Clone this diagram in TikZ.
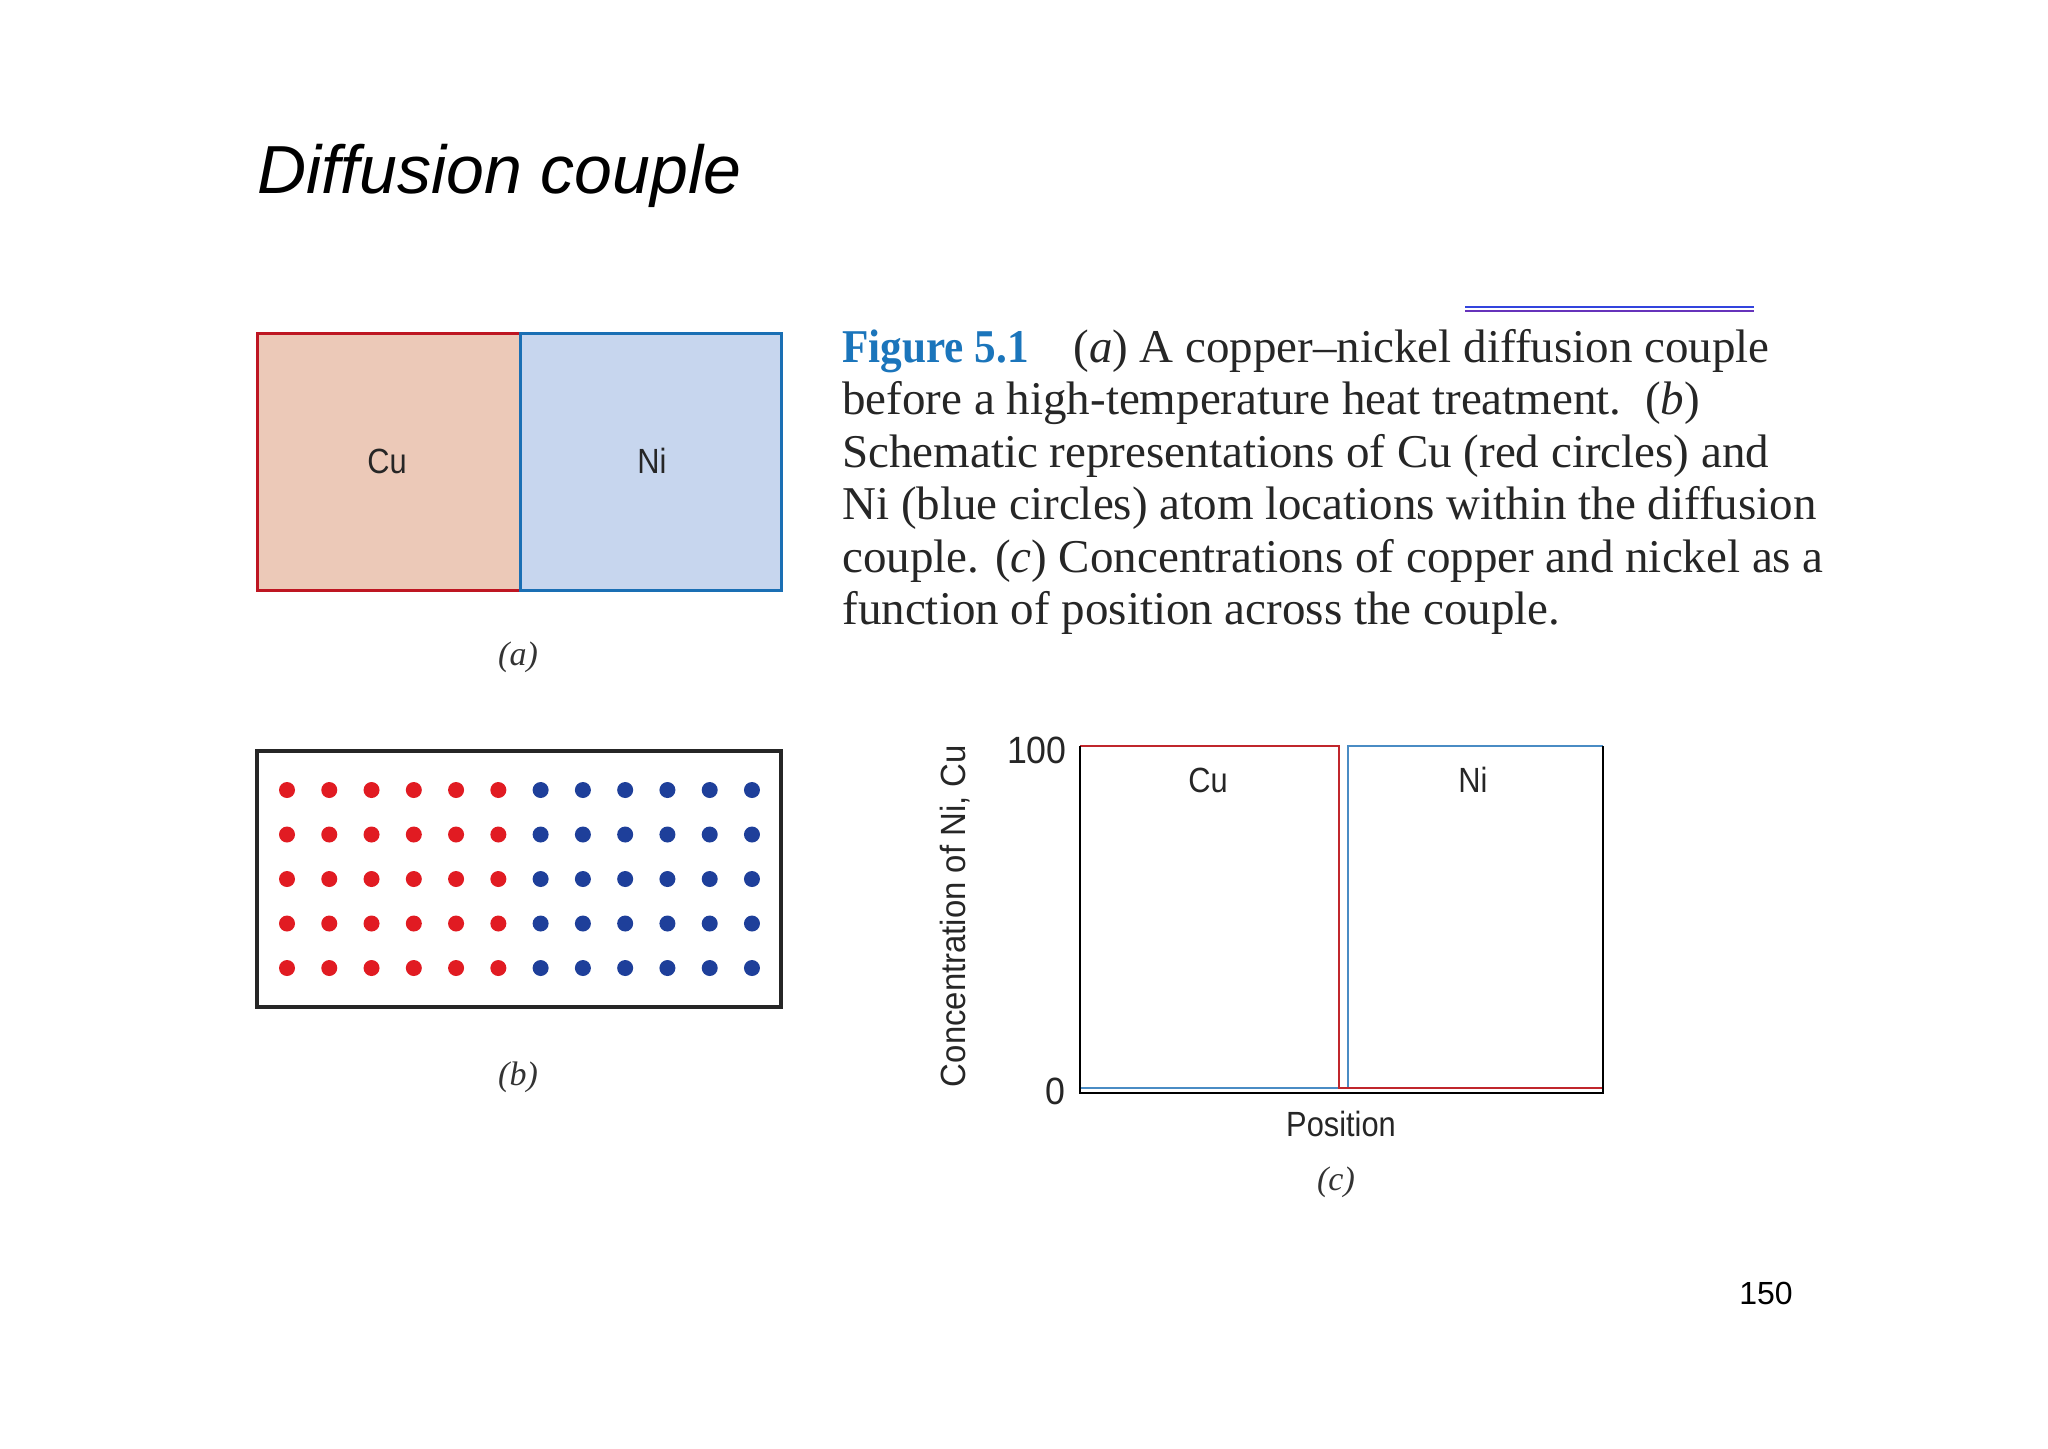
\documentclass[tikz,border=0pt]{standalone}
\usepackage{fontspec}
\setmainfont{Liberation Serif}
\newfontfamily\arialf{Liberation Sans}
\newfontfamily\condf[FakeStretch=0.88]{Liberation Sans}
\newfontfamily\condyf[FakeStretch=0.94]{Liberation Sans}
\newfontfamily\figf[FakeStretch=0.92]{Liberation Serif}
\definecolor{cufill}{HTML}{ECC9B8}
\definecolor{cuedge}{HTML}{BE1622}
\definecolor{nifill}{HTML}{C7D6EE}
\definecolor{niedge}{HTML}{1A6FB4}
\definecolor{dotred}{HTML}{E11B22}
\definecolor{dotblue}{HTML}{1E3F9A}
\definecolor{figblue}{HTML}{1B75BB}
\definecolor{plotred}{HTML}{C0262C}
\definecolor{plotblue}{HTML}{4A8CC4}
\definecolor{rulea}{HTML}{3344DD}
\definecolor{ruleb}{HTML}{6633BB}
\tikzset{
  lbl/.style={inner sep=0pt, font=\condf\fontsize{17.5}{20}\selectfont, text=black!85},
  numlbl/.style={inner sep=0pt, font=\condyf\fontsize{19}{22}\selectfont, text=black!85},
  sublbl/.style={inner sep=0pt, font=\itshape\fontsize{17}{20}\selectfont, text=black!80},
  capline/.style={anchor=base west, inner sep=0pt, font=\fontsize{23.5}{26}\selectfont, text=black!85},
  atomred/.style={fill=dotred},
  atomblue/.style={fill=dotblue},
}
\begin{document}
\begin{tikzpicture}[x=0.5pt,y=-0.5pt]
\useasboundingbox[fill=white] (0,0) rectangle (2048,1448);

% title
\node[anchor=base west, inner sep=0pt] (title) at (257,193)
  {\arialf\itshape\fontsize{34}{40}\selectfont Diffusion couple};

% panel (a)
\draw[line width=1.5pt, cuedge, fill=cufill] (257,333) rectangle (520,590);
\draw[line width=1.5pt, niedge, fill=nifill] (520,333) rectangle (781,590);
\node[lbl] (cuA) at (387,461) {Cu};
\node[lbl] (niA) at (652,461) {Ni};
\node[sublbl] (labA) at (518,657) {(a)};

% panel (b)
\draw[line width=1.6pt, black!85] (257,751) rectangle (781,1007);
\foreach \i in {0,...,11}{
  \foreach \j in {0,...,4}{
    \ifnum\i<6
      \fill[atomred] (287+\i*42.27, 790+\j*44.5) circle[radius=4pt];
    \else
      \fill[atomblue] (287+\i*42.27, 790+\j*44.5) circle[radius=4pt];
    \fi
  }
}
\node[sublbl] (labB) at (518,1077) {(b)};

% caption
\draw[line width=0.8pt, rulea] (1465,307) -- (1754,307);
\draw[line width=0.8pt, ruleb] (1465,311) -- (1754,311);
\node[capline, text=figblue] (fig) at (842,362) {\figf\bfseries Figure 5.1};
\node[capline] (c1) at (1073,362) {(\textit{a}) A copper--nickel diffusion couple};
\node[capline] (c2) at (842,414.5) {before a high-temperature heat treatment.\ \ (\textit{b})};
\node[capline] (c3) at (842,467) {Schematic representations of Cu (red circles) and};
\node[capline] (c4) at (842,519.5) {Ni (blue circles) atom locations within the diffusion};
\node[capline] (c5) at (842,572) {couple. (\textit{c}) Concentrations of copper and nickel as a};
\node[capline] (c6) at (842,624.5) {function of position across the couple.};

% panel (c)
\draw[line width=1.1pt, plotblue] (1080,1088) -- (1348,1088) -- (1348,746) -- (1603,746);
\draw[line width=1.1pt, plotred] (1080,746) -- (1339,746) -- (1339,1088) -- (1603,1088);
\draw[line width=1.1pt, black] (1080,746) -- (1080,1093) -- (1603,1093) -- (1603,746);
\node[numlbl, anchor=east] (y100) at (1067,750) {100};
\node[numlbl, anchor=east] (y0) at (1066,1091) {0};
\node[lbl] (cuC) at (1208,780) {Cu};
\node[lbl] (niC) at (1473,780) {Ni};
\node[lbl] (xlab) at (1341,1124) {Position};
\node[lbl, font=\condyf\fontsize{17.5}{20}\selectfont, rotate=90] (ylab) at (955,916) {Concentration of Ni, Cu};
\node[sublbl] (labC) at (1336,1182) {(c)};

% page number
\node[inner sep=0pt] (pnum) at (1766,1293) {\arialf\fontsize{16}{19}\selectfont 150};
\end{tikzpicture}
\end{document}
